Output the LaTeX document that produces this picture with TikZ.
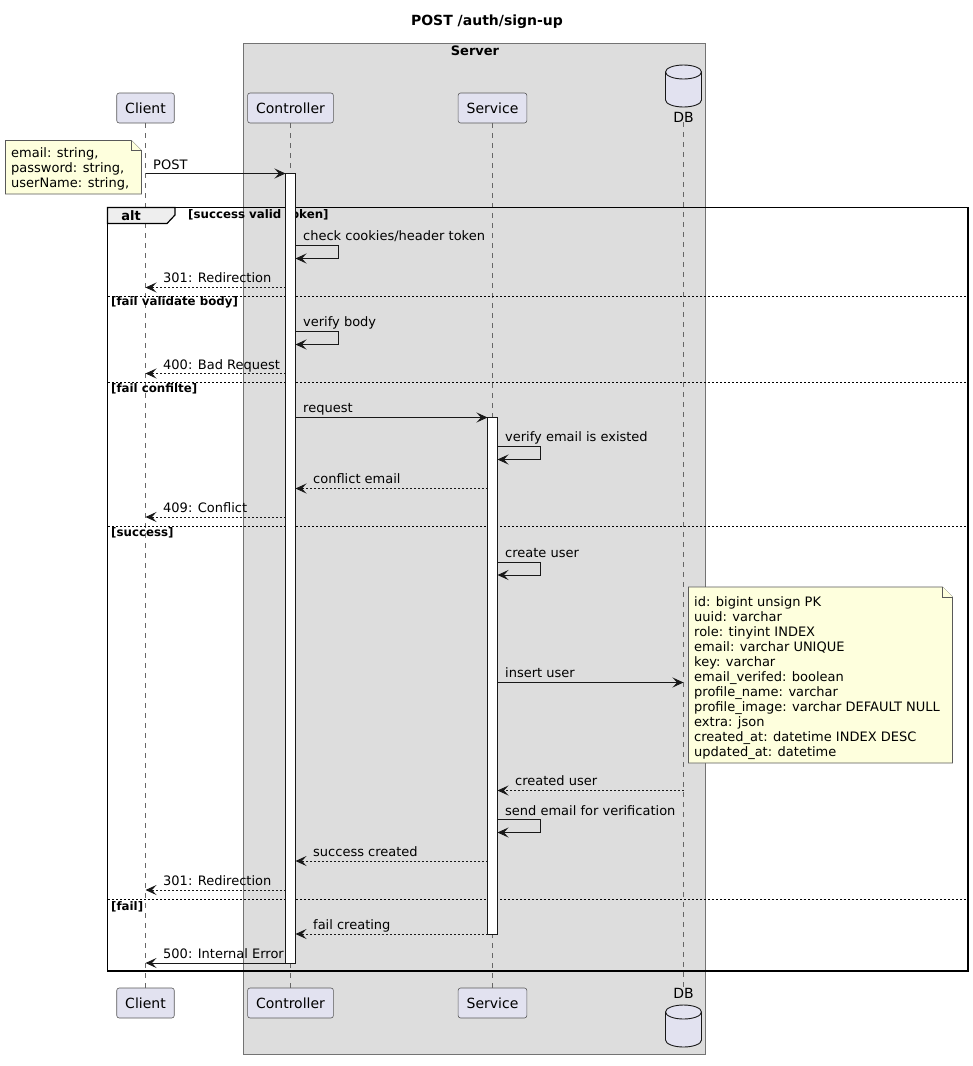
\documentclass[tikz,border=0pt]{standalone}
\usepackage{fontspec}
\setmainfont{DejaVu Sans}
\usetikzlibrary{arrows.meta}
\definecolor{partfill}{HTML}{E2E2F0}
\definecolor{srvfill}{HTML}{DDDDDD}
\definecolor{notefill}{HTML}{FEFFDD}
\definecolor{tabfill}{HTML}{EEEEEE}
\definecolor{edge}{HTML}{181818}
\tikzset{
 part/.style={draw=black!65, line width=0.6pt, fill=partfill, rounded corners=2.5pt, minimum height=30pt, inner xsep=8.5pt, font=\fontsize{14}{16}\selectfont},
 life/.style={draw=black!60, line width=0.6pt, dash pattern=on 5pt off 5pt},
 tip/.style={-{Stealth[length=11pt,width=10pt,inset=4.5pt]}},
 sync/.style={tip, line width=0.9pt, draw=edge},
 reply/.style={sync, dash pattern=on 2pt off 2pt},
 lbl/.style={anchor=base west, inner sep=0pt, font=\fontsize{13}{15}\selectfont},
 guard/.style={anchor=west, inner sep=0pt, font=\bfseries\fontsize{11.8}{13}\selectfont},
 sepline/.style={draw=black, line width=0.7pt, dash pattern=on 2pt off 2pt},
 act/.style={draw=edge, fill=white, line width=0.8pt},
 note/.style={draw=black!65, fill=notefill, line width=0.6pt},
 notetext/.style={anchor=north west, inner sep=0pt, align=left, font=\fontsize{13}{15}\selectfont},
 cyl/.style={fill=partfill, draw=edge, line width=0.9pt},
}
\begin{document}
\begin{tikzpicture}[x=1pt,y=-1pt]
\useasboundingbox (0,0) rectangle (973,1066);
% title
\node[font=\bfseries\fontsize{14}{16}\selectfont] (title) at (487,22) {POST /auth/sign-up};
% server box
\draw[fill=srvfill, draw=black!55, line width=0.7pt] (243.5,43.5) rectangle (705,1054);
\node[font=\bfseries\fontsize{13}{15}\selectfont] (server) at (475,50.5) {Server};
% lifeline x positions
\coordinate (cli) at (145.5,0);
\coordinate (ctl) at (290.5,0);
\coordinate (srv) at (492.5,0);
\coordinate (db) at (683.5,0);
\coordinate (ctlL) at (285.5,0);
\coordinate (ctlR) at (295.5,0);
\coordinate (srvL) at (487.5,0);
\coordinate (srvR) at (497.5,0);
% participants top
\node[part] (cliT) at (145.5,108) {Client};
\node[part] (ctlT) at (290.5,108) {Controller};
\node[part] (srvT) at (492.5,108) {Service};
\draw[cyl] (665.5,72) -- (665.5,100) arc[start angle=180,end angle=0,x radius=18,y radius=7] -- (701.5,72) arc[start angle=0,end angle=-180,x radius=18,y radius=7] -- cycle;
\draw[edge, line width=0.9pt] (665.5,72) arc[start angle=180,end angle=0,x radius=18,y radius=7];
\node[font=\fontsize{14}{16}\selectfont, inner sep=0pt] (dbT) at (683.5,117) {DB};
% participants bottom
\node[part] (cliB) at (145.5,1003) {Client};
\node[part] (ctlB) at (290.5,1003) {Controller};
\node[part] (srvB) at (492.5,1003) {Service};
\node[font=\fontsize{14}{16}\selectfont, inner sep=0pt] (dbB) at (683.5,993) {DB};
\draw[cyl] (665.5,1012) -- (665.5,1040) arc[start angle=180,end angle=0,x radius=18,y radius=7] -- (701.5,1012) arc[start angle=0,end angle=-180,x radius=18,y radius=7] -- cycle;
\draw[edge, line width=0.9pt] (665.5,1012) arc[start angle=180,end angle=0,x radius=18,y radius=7];
% lifelines
\draw[life] (cliT.south) -- (cliB.north);
\draw[life] (ctlT.south) -- (ctlB.north);
\draw[life] (srvT.south) -- (srvB.north);
\draw[life] (dbT.south) -- (dbB.north);
% alt frame
\draw[draw=black, line width=1.5pt] (107.5,207.5) rectangle (968,971);
\draw[fill=tabfill, draw=black, line width=1.2pt] (107.5,207.5) -- (175,207.5) -- (175,215) -- (167,223.5) -- (107.5,223.5) -- cycle;
\node[font=\bfseries\fontsize{13}{15}\selectfont, inner sep=0pt] (altlbl) at (131,215.5) {alt};
\node[guard] (g1) at (188,215) {[success valid token]};
\draw[sepline] (108,296.5) -- (967,296.5);
\node[guard] (g2) at (111,302.5) {[fail validate body]};
\draw[sepline] (108,382.5) -- (967,382.5);
\node[guard] (g3) at (111,389) {[fail confilte]};
\draw[sepline] (108,526.5) -- (967,526.5);
\node[guard] (g4) at (111,533) {[success]};
\draw[sepline] (108,899.5) -- (967,899.5);
\node[guard] (g5) at (111,906.5) {[fail]};
% activations
\draw[act] (ctlL |- 0,173.5) rectangle (ctlR |- 0,963);
\draw[act] (srvL |- 0,417.5) rectangle (srvR |- 0,934);
% note client
\draw[note] (5.5,140.5) -- (131.5,140.5) -- (141.5,150.5) -- (141.5,194) -- (5.5,194) -- cycle;
\draw[note] (131.5,140.5) -- (131.5,150.5) -- (141.5,150.5);
\node[notetext] (n1) at (11,147.5) {email: string,\\password: string,\\userName: string,};
% messages
\draw[sync] (cli |- 0,173.5) -- (ctlL |- 0,173.5);
\node[lbl] (m1) at (153,169) {POST};
\draw[sync] (ctlR |- 0,245.5) -- (338,245.5) -- (338,258.5) -- (ctlR |- 0,258.5);
\node[lbl] (m2) at (303,240) {check cookies/header token};
\draw[reply] (ctlL |- 0,287.5) -- (cli |- 0,287.5);
\node[lbl] (m3) at (163,282) {301: Redirection};
\draw[sync] (ctlR |- 0,331.5) -- (338,331.5) -- (338,344.5) -- (ctlR |- 0,344.5);
\node[lbl] (m4) at (303,326) {verify body};
\draw[reply] (ctlL |- 0,373.5) -- (cli |- 0,373.5);
\node[lbl] (m5) at (163,369) {400: Bad Request};
\draw[sync] (ctlR |- 0,417.5) -- (srvL |- 0,417.5);
\node[lbl] (m6) at (303,412) {request};
\draw[sync] (srvR |- 0,446.5) -- (540,446.5) -- (540,459.5) -- (srvR |- 0,459.5);
\node[lbl] (m7) at (505,441.5) {verify email is existed};
\draw[reply] (srvL |- 0,488.5) -- (ctlR |- 0,488.5);
\node[lbl] (m8) at (313,483.5) {conflict email};
\draw[reply] (ctlL |- 0,517) -- (cli |- 0,517);
\node[lbl] (m9) at (163,512.5) {409: Conflict};
\draw[sync] (srvR |- 0,562.5) -- (540,562.5) -- (540,575) -- (srvR |- 0,575);
\node[lbl] (m10) at (505,557) {create user};
\draw[sync] (srvR |- 0,682.5) -- (db |- 0,682.5);
\node[lbl] (m11) at (505,677.5) {insert user};
\draw[reply] (db |- 0,790.5) -- (srvR |- 0,790.5);
\node[lbl] (m12) at (515,785) {created user};
\draw[sync] (srvR |- 0,819.5) -- (540,819.5) -- (540,832.5) -- (srvR |- 0,832.5);
\node[lbl] (m13) at (505,815) {send email for verification};
\draw[reply] (srvL |- 0,861) -- (ctlR |- 0,861);
\node[lbl] (m14) at (313,856.5) {success created};
\draw[reply] (ctlL |- 0,890) -- (cli |- 0,890);
\node[lbl] (m15) at (163,885.5) {301: Redirection};
\draw[reply] (srvL |- 0,934) -- (ctlR |- 0,934);
\node[lbl] (m16) at (313,929.5) {fail creating};
\draw[sync] (ctlL |- 0,963) -- (cli |- 0,963);
\node[lbl] (m17) at (163,958.5) {500: Internal Error};
% note DB
\draw[note] (688.5,587) -- (942.5,587) -- (952.5,597) -- (952.5,763) -- (688.5,763) -- cycle;
\draw[note] (942.5,587) -- (942.5,597) -- (952.5,597);
\node[notetext] (n2) at (694,596) {id: bigint unsign PK\\uuid: varchar\\role: tinyint INDEX\\email: varchar UNIQUE\\key: varchar\\email\_verifed: boolean\\profile\_name: varchar\\profile\_image: varchar DEFAULT NULL\\extra: json\\created\_at: datetime INDEX DESC\\updated\_at: datetime};
\end{tikzpicture}
\end{document}
